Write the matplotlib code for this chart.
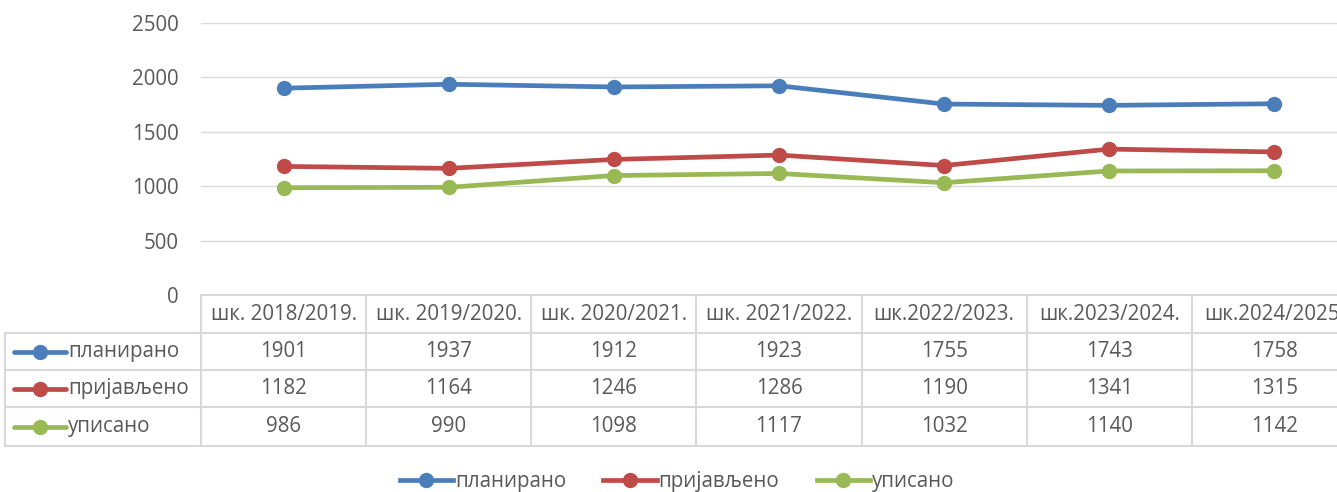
import matplotlib
matplotlib.use("Agg")
import matplotlib.pyplot as plt
from matplotlib.lines import Line2D
from matplotlib.transforms import blended_transform_factory

categories = ["шк. 2018/2019.", "шк. 2019/2020.", "шк. 2020/2021.", "шк. 2021/2022.",
              "шк.2022/2023.", "шк.2023/2024.", "шк.2024/2025."]
planirano = [1901, 1937, 1912, 1923, 1755, 1743, 1758]
prijavljeno = [1182, 1164, 1246, 1286, 1190, 1341, 1315]
upisano = [986, 990, 1098, 1117, 1032, 1140, 1142]
series_names = ["планирано", "пријављено", "уписано"]
series = [planirano, prijavljeno, upisano]
colors = ["#4a7ebb", "#be4b48", "#98b954"]
yticks = [0, 500, 1000, 1500, 2000, 2500]

W, H = 1337, 492
plt.rcParams['font.family'] = ['Open Sans', 'DejaVu Sans']
TXT = "#595959"
GRID = "#d9d9d9"
FS = 14.8

fig = plt.figure(figsize=(W / 100, H / 100), dpi=100)

def fx(x):
    return x / W

def fy(y):
    return 1 - y / H

ax = fig.add_axes([fx(201), fy(295), fx(1357) - fx(201), fy(23) - fy(295)])
x = list(range(len(categories)))
for name, vals, c in zip(series_names, series, colors):
    ax.plot(x, vals, color=c, lw=3.4, marker="o", ms=10, label=name, solid_capstyle="round")
ax.set_xlim(-0.5, len(categories) - 0.5)
ax.set_ylim(0, 2500)
ax.set_yticks(yticks)
ax.set_yticklabels([str(v) for v in yticks], fontsize=FS, color=TXT)
ax.set_xticks([])
ax.tick_params(axis="y", length=0, pad=16)
ax.grid(axis="y", color=GRID, lw=1)
ax.set_axisbelow(True)
for s in ax.spines.values():
    s.set_visible(False)

# data table
bt = blended_transform_factory(ax.transData, fig.transFigure)
row_y = [295, 333, 370, 407, 446]
lc = GRID
lw = 1.5
fig.add_artist(Line2D([fx(201), fx(1357)], [fy(295)] * 2, color=lc, lw=lw))
for yy in row_y[1:]:
    fig.add_artist(Line2D([fx(5), fx(1357)], [fy(yy)] * 2, color=lc, lw=lw))
fig.add_artist(Line2D([fx(5), fx(5)], [fy(333), fy(446)], color=lc, lw=lw))
fig.add_artist(Line2D([fx(201), fx(201)], [fy(295), fy(446)], color=lc, lw=lw))
for i in range(len(categories)):
    ln = Line2D([i + 0.5, i + 0.5], [fy(295), fy(446)], color=lc, lw=lw, transform=bt)
    ln.set_clip_on(False)
    fig.add_artist(ln)
for i, cat in enumerate(categories):
    fig.text(i, fy((295 + 333) / 2), cat, transform=bt, fontsize=FS, color=TXT,
             ha="center", va="center")
for r, (name, vals, c) in enumerate(zip(series_names, series, colors)):
    yc = fy((row_y[r + 1] + row_y[r + 2]) / 2)
    fig.add_artist(Line2D([fx(14), fx(66)], [yc, yc], color=c, lw=3.4, solid_capstyle="round"))
    fig.add_artist(Line2D([fx(40)], [yc], color=c, marker="o", ms=10, lw=0))
    fig.text(fx(68), yc, name, fontsize=FS, color=TXT, ha="left", va="center")
    for i, v in enumerate(vals):
        fig.text(i, yc, str(v), transform=bt, fontsize=FS, color=TXT, ha="center", va="center")

handles = [Line2D([], [], color=c, lw=3.4, marker="o", ms=10) for c in colors]
fig.legend(handles, series_names, loc="center", bbox_to_anchor=(fx(677), fy(482)), ncol=3,
           frameon=False, fontsize=FS, labelcolor=TXT, handlelength=2.6, handletextpad=0.1,
           columnspacing=1.8)

fig.savefig("out.png", dpi=100)
